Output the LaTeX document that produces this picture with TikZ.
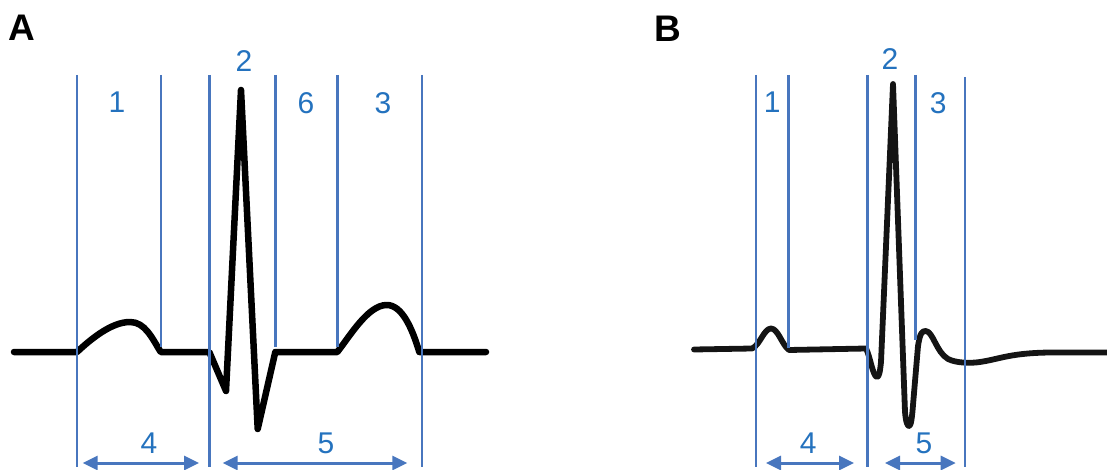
\documentclass[tikz,border=0pt]{standalone}
\usepackage{fontspec}
\setmainfont{Liberation Sans}
\usetikzlibrary{arrows.meta}
\definecolor{lineblue}{RGB}{72,118,190}
\definecolor{textblue}{RGB}{36,114,190}
\tikzset{
  vline/.style={draw=lineblue, line width=2.4pt},
  span/.style={draw=lineblue, line width=3pt, {Triangle[length=15pt,width=14pt]}-{Triangle[length=15pt,width=14pt]}},
  num/.style={text=textblue, inner sep=0pt, font=\fontsize{30}{36}\selectfont},
  panel/.style={text=black, inner sep=0pt, font=\fontsize{37}{44}\selectfont\bfseries},
  ecga/.style={draw=black, line width=6.5pt, line join=round, line cap=round},
  ecgb/.style={draw=black!92, line width=5.8pt, line join=round, line cap=round},
}
\begin{document}
\begin{tikzpicture}[x=1pt,y=-1pt]
\useasboundingbox (0,0) rectangle (1107,470);

% ---------- Panel A ----------
\node[panel] (labA) at (21.7,27.5) {A};
\draw[ecga] (14,352) -- (77,352)
  .. controls (92,338) and (112,322) .. (130,322)
  .. controls (145,322) and (152,338) .. (160.7,352)
  -- (209.3,352) -- (226,391) -- (241,90) -- (257.7,429) -- (275.3,352)
  -- (337.3,352)
  .. controls (350,336) and (368,305) .. (386.7,305)
  .. controls (402,305) and (412,328) .. (419.3,352)
  -- (486,352);

\draw[vline] (77,75) -- (77,467);
\draw[vline] (160.7,75) -- (160.7,347);
\draw[vline] (209.3,75) -- (209.3,467);
\draw[vline] (275.3,75) -- (275.3,347);
\draw[vline] (337.3,75) -- (337.3,347);
\draw[vline] (422,75) -- (422,467);

\node[num] (a1) at (117,101.7) {1};
\node[num] (a2) at (244,61) {2};
\node[num] (a6) at (306,102.7) {6};
\node[num] (a3) at (383,103) {3};
\node[num] (a4) at (149,443) {4};
\node[num] (a5) at (326,443) {5};

\coordinate (a4l) at (82.7,463);
\coordinate (a4r) at (199,463);
\coordinate (a5l) at (222.7,463);
\coordinate (a5r) at (407.3,463);
\draw[span] (a4l) -- (a4r);
\draw[span] (a5l) -- (a5r);

% ---------- Panel B ----------
\node[panel] (labB) at (667.8,28.8) {B};
\draw[ecgb] (694,349.5) -- (752,348.5)
  .. controls (760,345) and (764,328.5) .. (771,328.5)
  .. controls (778,328.5) and (782,345) .. (789,350)
  -- (866,348.5)
  .. controls (870,356) and (873,377) .. (877,377)
  .. controls (879,377) and (880,372) .. (881,362)
  -- (893,84)
  -- (905,412)
  .. controls (906,424) and (908,426) .. (909,426)
  .. controls (911,426) and (912,418) .. (913,405)
  -- (918,346)
  .. controls (920,333) and (922,331) .. (925.5,331)
  .. controls (933,331) and (936,352) .. (948,359)
  .. controls (956,363) and (970,363.5) .. (980,362)
  .. controls (1000,359) and (1010,353) .. (1050,352.5)
  -- (1107,352.5);

\draw[vline] (756,75) -- (756,467);
\draw[vline] (788.3,75) -- (788.3,348);
\draw[vline] (867.3,75) -- (867.3,467);
\draw[vline] (915.5,75) -- (915.5,340);
\draw[vline] (965,77) -- (965,467);

\node[num] (b1) at (772.3,101.7) {1};
\node[num] (b2) at (890,59.3) {2};
\node[num] (b3) at (938.3,102.7) {3};
\node[num] (b4) at (808.3,443) {4};
\node[num] (b5) at (924,443) {5};

\coordinate (b4l) at (766,463);
\coordinate (b4r) at (854,463);
\coordinate (b5l) at (885,463);
\coordinate (b5r) at (955.7,463);
\draw[span] (b4l) -- (b4r);
\draw[span] (b5l) -- (b5r);
\end{tikzpicture}
\end{document}
